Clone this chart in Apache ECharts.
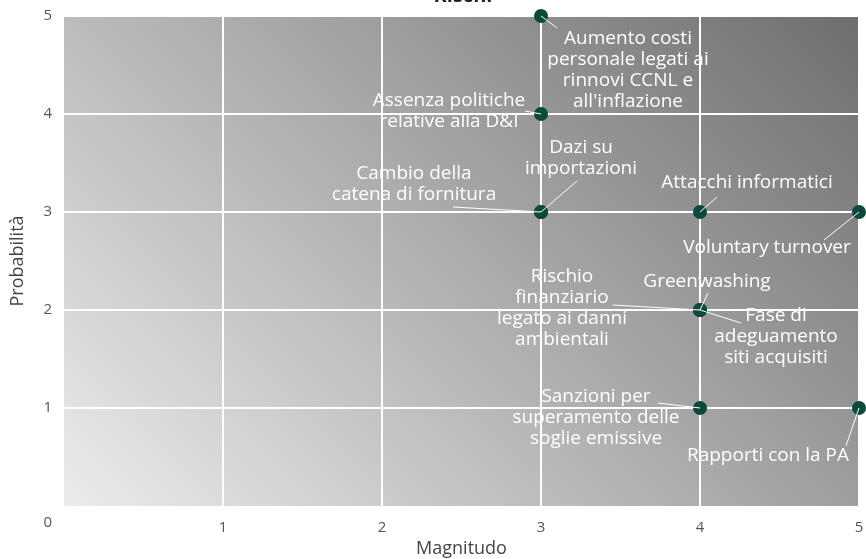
<!DOCTYPE html>
<html>
<head>
<meta charset="utf-8">
<script src="https://cdn.jsdelivr.net/npm/echarts@6/dist/echarts.min.js"></script>
<style>
  html, body { margin: 0; padding: 0; background: #ffffff; }
  #chart { width: 866px; height: 559px; }
</style>
</head>
<body>
<div id="chart"></div>
<script>
// Risk matrix: magnitude (x) vs probability (y)
const riskNames = [
  'Aumento costi\npersonale legati ai\nrinnovi CCNL e\nall\'inflazione',
  'Assenza politiche\nrelative alla D&I',
  'Cambio della\ncatena di fornitura',
  'Dazi su\nimportazioni',
  'Attacchi informatici',
  'Voluntary turnover',
  'Greenwashing',
  'Rischio\nfinanziario\nlegato ai danni\nambientali',
  'Fase di\nadeguamento\nsiti acquisiti',
  'Sanzioni per\nsuperamento delle\nsoglie emissive',
  'Rapporti con la PA'
];
const magnitude   = [3, 3, 3, 3, 4, 5, 4, 4, 4, 4, 5];
const probability = [5, 4, 3, 3, 3, 3, 2, 2, 2, 1, 1];
const axisTicks = [0, 1, 2, 3, 4, 5];

// Label placement in pixels relative to each dot: [text dx, text dy, leader dx, leader dy]
const labelPlacement = [
  [87, 54, 16, 12],
  [-92, -3, -16, -3],
  [-127, -28, -88, -5],
  [40, -54, 36, -31],
  [47, -29, 17, -15],
  [-92, 36, -35, 28],
  [7, -28, 8, -17],
  [-138, -2, -87, -5],
  [76, 27, 41, 13],
  [-104, 10, -42, -5],
  [-91, 48, -13, 38]
];

const points = magnitude.map((m, i) => [m, probability[i], i]);

const G = { left: 64, right: 7, top: 16, bottom: 53, w: 866, h: 559 };
const gx0 = G.left, gy0 = G.h - G.bottom;
const gW = G.w - G.left - G.right, gH = G.h - G.top - G.bottom;
const half = (gW + gH) / 2;

const chart = echarts.init(document.getElementById('chart'), null, { renderer: 'canvas' });
const uiFont = '"Open Sans", Lato, sans-serif';

chart.setOption({
  animation: false,
  title: {
    text: 'Rischi',
    left: 458,
    textAlign: 'center',
    top: -19,
    textStyle: { fontSize: 20, fontWeight: 'bold', color: '#222', fontFamily: uiFont }
  },
  grid: {
    left: G.left, right: G.right, top: G.top, bottom: G.bottom,
    outerBoundsMode: 'none',
    containLabel: false,
    show: true,
    borderWidth: 0,
    backgroundColor: {
      type: 'linear', global: true,
      x: gx0, y: gy0, x2: gx0 + half, y2: gy0 - half,
      colorStops: [
        { offset: 0, color: '#ececec' },
        { offset: 1, color: '#6e6e6e' }
      ]
    }
  },
  xAxis: {
    type: 'value',
    min: axisTicks[0], max: axisTicks[axisTicks.length - 1], interval: 1,
    name: 'Magnitudo', nameLocation: 'middle', nameGap: 34,
    nameTextStyle: { fontSize: 18, color: '#444', fontFamily: uiFont },
    axisLine: { show: false }, axisTick: { show: false },
    axisLabel: {
      margin: 14, fontSize: 15, color: '#555', fontFamily: uiFont,
      formatter: v => (v === 0 ? '' : String(v))
    },
    splitLine: { show: true, showMinLine: false, lineStyle: { color: '#ffffff', width: 2 } }
  },
  yAxis: {
    type: 'value',
    min: axisTicks[0], max: axisTicks[axisTicks.length - 1], interval: 1,
    name: 'Probabilità', nameLocation: 'middle', nameGap: 37, nameRotate: 90,
    nameTextStyle: { fontSize: 18, color: '#444', fontFamily: uiFont },
    axisLine: { show: false }, axisTick: { show: false },
    axisLabel: {
      margin: 12, fontSize: 15, color: '#555', fontFamily: uiFont,
      formatter: v => (v === 0 ? '{z|0}' : String(v)),
      rich: { z: { fontSize: 15, color: '#555', fontFamily: uiFont, padding: [34, 0, 0, 0] } }
    },
    splitLine: { show: true, showMinLine: false, lineStyle: { color: '#ffffff', width: 2 } }
  },
  series: [
    {
      type: 'scatter',
      data: points,
      symbolSize: 14,
      itemStyle: { color: '#0b4a3b', opacity: 1 },
      z: 3
    },
    {
      type: 'custom',
      data: points,
      z: 4,
      silent: true,
      renderItem: function (params, api) {
        const idx = api.value(2);
        const c = api.coord([api.value(0), api.value(1)]);
        const p = labelPlacement[idx];
        return {
          type: 'group',
          children: [
            {
              type: 'line',
              shape: { x1: c[0], y1: c[1], x2: c[0] + p[2], y2: c[1] + p[3] },
              style: { stroke: '#ffffff', lineWidth: 1 }
            },
            {
              type: 'text',
              style: {
                text: riskNames[idx],
                x: c[0] + p[0], y: c[1] + p[1],
                align: 'center', verticalAlign: 'middle',
                fill: '#ffffff',
                fontSize: 19, lineHeight: 21,
                fontFamily: uiFont
              }
            }
          ]
        };
      }
    }
  ]
});
</script>
</body>
</html>
